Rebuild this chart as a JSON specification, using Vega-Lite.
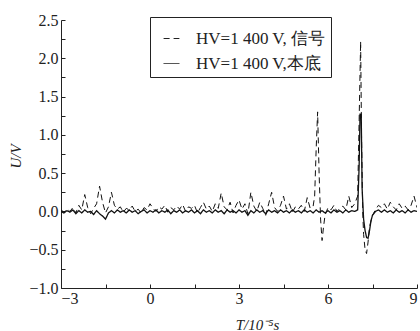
{
  "$schema": "https://vega.github.io/schema/vega-lite/v6.json",
  "width": 356,
  "height": 268,
  "autosize": {"type": "none"},
  "padding": {"left": 61, "top": 20, "right": 3, "bottom": 43},
  "background": "white",
  "config": {
    "view": {"stroke": null},
    "font": "Liberation Serif",
    "axis": {"domainColor": "#222", "tickColor": "#222", "labelColor": "#222", "titleColor": "#222", "labelFont": "Liberation Serif", "titleFont": "Liberation Serif", "labelFontSize": 16, "titleFontSize": 15, "titleFontWeight": "normal", "grid": false},
    "legend": {"labelFont": "Liberation Serif", "labelFontSize": 17, "labelColor": "#222", "symbolType": "M-0.5,0H0.5", "symbolSize": 1000, "symbolStrokeColor": "#222", "symbolStrokeWidth": 1, "rowPadding": 0, "padding": 5, "labelOffset": 8, "strokeColor": "#222", "labelLimit": 300}
  },
  "datasets": {
    "sig": [
      {"T": -3.0, "U": 0.02}, {"T": -2.9, "U": -0.01}, {"T": -2.8, "U": 0.03}, {"T": -2.7, "U": 0.0}, {"T": -2.6, "U": 0.05}, {"T": -2.5, "U": -0.02}, {"T": -2.4, "U": 0.08}, {"T": -2.3, "U": 0.02}, {"T": -2.2, "U": 0.22}, {"T": -2.1, "U": 0.05},
      {"T": -2.0, "U": -0.03}, {"T": -1.9, "U": 0.04}, {"T": -1.8, "U": 0.1}, {"T": -1.7, "U": 0.33}, {"T": -1.6, "U": 0.12}, {"T": -1.5, "U": -0.02}, {"T": -1.4, "U": 0.06}, {"T": -1.3, "U": 0.25}, {"T": -1.2, "U": 0.08}, {"T": -1.1, "U": 0.03},
      {"T": -1.0, "U": 0.06}, {"T": -0.9, "U": -0.01}, {"T": -0.8, "U": 0.04}, {"T": -0.7, "U": 0.02}, {"T": -0.6, "U": 0.07}, {"T": -0.5, "U": 0.0}, {"T": -0.4, "U": 0.03}, {"T": -0.3, "U": -0.02}, {"T": -0.2, "U": 0.05}, {"T": -0.1, "U": 0.02},
      {"T": 0.0, "U": 0.1}, {"T": 0.1, "U": 0.04}, {"T": 0.2, "U": 0.0}, {"T": 0.3, "U": 0.06}, {"T": 0.4, "U": 0.03}, {"T": 0.5, "U": 0.08}, {"T": 0.6, "U": -0.01}, {"T": 0.7, "U": 0.05}, {"T": 0.8, "U": 0.02}, {"T": 0.9, "U": 0.07},
      {"T": 1.0, "U": 0.03}, {"T": 1.1, "U": 0.09}, {"T": 1.2, "U": 0.0}, {"T": 1.3, "U": 0.06}, {"T": 1.4, "U": 0.04}, {"T": 1.5, "U": 0.08}, {"T": 1.6, "U": -0.02}, {"T": 1.7, "U": 0.05}, {"T": 1.8, "U": 0.12}, {"T": 1.9, "U": 0.03},
      {"T": 2.0, "U": 0.07}, {"T": 2.1, "U": 0.0}, {"T": 2.2, "U": 0.1}, {"T": 2.3, "U": 0.04}, {"T": 2.4, "U": 0.24}, {"T": 2.5, "U": 0.06}, {"T": 2.6, "U": 0.02}, {"T": 2.7, "U": 0.12}, {"T": 2.8, "U": -0.02}, {"T": 2.9, "U": 0.08},
      {"T": 3.0, "U": 0.15}, {"T": 3.1, "U": 0.03}, {"T": 3.2, "U": 0.1}, {"T": 3.3, "U": -0.03}, {"T": 3.4, "U": 0.25}, {"T": 3.5, "U": 0.07}, {"T": 3.6, "U": 0.0}, {"T": 3.7, "U": 0.12}, {"T": 3.8, "U": 0.04}, {"T": 3.9, "U": -0.05},
      {"T": 4.0, "U": 0.1}, {"T": 4.1, "U": 0.25}, {"T": 4.2, "U": 0.05}, {"T": 4.3, "U": 0.0}, {"T": 4.4, "U": 0.08}, {"T": 4.5, "U": 0.2}, {"T": 4.6, "U": 0.03}, {"T": 4.7, "U": 0.1}, {"T": 4.8, "U": -0.01}, {"T": 4.9, "U": 0.06},
      {"T": 5.0, "U": 0.03}, {"T": 5.1, "U": 0.08}, {"T": 5.2, "U": 0.0}, {"T": 5.3, "U": 0.18}, {"T": 5.4, "U": 0.04}, {"T": 5.5, "U": 0.07}, {"T": 5.55, "U": 0.2}, {"T": 5.6, "U": 0.8}, {"T": 5.65, "U": 1.3}, {"T": 5.7, "U": 0.5},
      {"T": 5.75, "U": -0.1}, {"T": 5.8, "U": -0.38}, {"T": 5.85, "U": -0.2}, {"T": 5.9, "U": -0.05}, {"T": 6.0, "U": 0.05}, {"T": 6.1, "U": 0.02}, {"T": 6.2, "U": 0.08}, {"T": 6.3, "U": 0.0}, {"T": 6.4, "U": 0.04}, {"T": 6.5, "U": 0.07},
      {"T": 6.6, "U": 0.02}, {"T": 6.7, "U": 0.2}, {"T": 6.8, "U": 0.05}, {"T": 6.9, "U": 0.1}, {"T": 7.0, "U": 0.2}, {"T": 7.05, "U": 1.2}, {"T": 7.1, "U": 2.22}, {"T": 7.13, "U": 1.0}, {"T": 7.17, "U": 0.0}, {"T": 7.2, "U": -0.3},
      {"T": 7.25, "U": -0.5}, {"T": 7.3, "U": -0.55}, {"T": 7.35, "U": -0.4}, {"T": 7.4, "U": -0.2}, {"T": 7.5, "U": -0.05}, {"T": 7.6, "U": 0.02}, {"T": 7.7, "U": 0.08}, {"T": 7.8, "U": 0.05}, {"T": 7.9, "U": 0.1}, {"T": 8.0, "U": 0.03},
      {"T": 8.1, "U": 0.12}, {"T": 8.2, "U": 0.06}, {"T": 8.3, "U": 0.02}, {"T": 8.4, "U": 0.1}, {"T": 8.5, "U": 0.04}, {"T": 8.6, "U": 0.07}, {"T": 8.7, "U": 0.02}, {"T": 8.8, "U": 0.08}, {"T": 8.9, "U": 0.2}, {"T": 9.0, "U": 0.05}
    ],
    "bg": [
      {"T": -3.0, "U": 0.0}, {"T": -2.9, "U": -0.02}, {"T": -2.8, "U": 0.01}, {"T": -2.7, "U": -0.01}, {"T": -2.6, "U": 0.02}, {"T": -2.5, "U": -0.03}, {"T": -2.4, "U": 0.01}, {"T": -2.3, "U": -0.02}, {"T": -2.2, "U": 0.02}, {"T": -2.1, "U": -0.01},
      {"T": -2.0, "U": 0.0}, {"T": -1.9, "U": -0.04}, {"T": -1.8, "U": 0.01}, {"T": -1.7, "U": -0.03}, {"T": -1.6, "U": -0.06}, {"T": -1.5, "U": -0.1}, {"T": -1.4, "U": -0.02}, {"T": -1.3, "U": 0.01}, {"T": -1.2, "U": -0.02}, {"T": -1.1, "U": 0.02},
      {"T": -1.0, "U": -0.01}, {"T": -0.9, "U": 0.01}, {"T": -0.8, "U": -0.02}, {"T": -0.7, "U": 0.02}, {"T": -0.6, "U": -0.01}, {"T": -0.5, "U": 0.01}, {"T": -0.4, "U": -0.03}, {"T": -0.3, "U": 0.0}, {"T": -0.2, "U": 0.02}, {"T": -0.1, "U": -0.02},
      {"T": 0.0, "U": 0.01}, {"T": 0.1, "U": -0.01}, {"T": 0.2, "U": 0.02}, {"T": 0.3, "U": -0.02}, {"T": 0.4, "U": 0.01}, {"T": 0.5, "U": -0.01}, {"T": 0.6, "U": 0.02}, {"T": 0.7, "U": -0.03}, {"T": 0.8, "U": 0.01}, {"T": 0.9, "U": -0.01},
      {"T": 1.0, "U": 0.02}, {"T": 1.1, "U": -0.02}, {"T": 1.2, "U": 0.01}, {"T": 1.3, "U": -0.01}, {"T": 1.4, "U": 0.02}, {"T": 1.5, "U": -0.02}, {"T": 1.6, "U": 0.01}, {"T": 1.7, "U": -0.03}, {"T": 1.8, "U": 0.02}, {"T": 1.9, "U": -0.01},
      {"T": 2.0, "U": 0.01}, {"T": 2.1, "U": -0.02}, {"T": 2.2, "U": 0.02}, {"T": 2.3, "U": -0.01}, {"T": 2.4, "U": 0.01}, {"T": 2.5, "U": -0.03}, {"T": 2.6, "U": 0.02}, {"T": 2.7, "U": -0.01}, {"T": 2.8, "U": 0.01}, {"T": 2.9, "U": -0.02},
      {"T": 3.0, "U": 0.02}, {"T": 3.1, "U": -0.01}, {"T": 3.2, "U": 0.01}, {"T": 3.3, "U": -0.05}, {"T": 3.4, "U": 0.01}, {"T": 3.5, "U": -0.02}, {"T": 3.6, "U": 0.02}, {"T": 3.7, "U": -0.01}, {"T": 3.8, "U": 0.01}, {"T": 3.9, "U": -0.03},
      {"T": 4.0, "U": 0.02}, {"T": 4.1, "U": -0.01}, {"T": 4.2, "U": 0.01}, {"T": 4.3, "U": -0.02}, {"T": 4.4, "U": 0.02}, {"T": 4.5, "U": -0.01}, {"T": 4.6, "U": 0.01}, {"T": 4.7, "U": -0.02}, {"T": 4.8, "U": 0.02}, {"T": 4.9, "U": -0.01},
      {"T": 5.0, "U": 0.01}, {"T": 5.1, "U": -0.02}, {"T": 5.2, "U": 0.02}, {"T": 5.3, "U": -0.01}, {"T": 5.4, "U": 0.01}, {"T": 5.5, "U": -0.02}, {"T": 5.6, "U": 0.02}, {"T": 5.7, "U": -0.01}, {"T": 5.8, "U": 0.01}, {"T": 5.9, "U": -0.02},
      {"T": 6.0, "U": 0.01}, {"T": 6.1, "U": -0.02}, {"T": 6.2, "U": 0.02}, {"T": 6.3, "U": -0.01}, {"T": 6.4, "U": 0.01}, {"T": 6.5, "U": -0.02}, {"T": 6.6, "U": 0.02}, {"T": 6.7, "U": -0.01}, {"T": 6.8, "U": 0.01}, {"T": 6.9, "U": 0.0},
      {"T": 7.0, "U": 0.02}, {"T": 7.05, "U": 0.6}, {"T": 7.08, "U": 1.27}, {"T": 7.12, "U": 1.27}, {"T": 7.15, "U": 0.3}, {"T": 7.2, "U": -0.1}, {"T": 7.25, "U": -0.25}, {"T": 7.3, "U": -0.34}, {"T": 7.35, "U": -0.35}, {"T": 7.4, "U": -0.25},
      {"T": 7.45, "U": -0.12}, {"T": 7.5, "U": -0.05}, {"T": 7.6, "U": 0.0}, {"T": 7.7, "U": 0.02}, {"T": 7.8, "U": -0.01}, {"T": 7.9, "U": 0.02}, {"T": 8.0, "U": -0.01}, {"T": 8.1, "U": 0.01}, {"T": 8.2, "U": -0.02}, {"T": 8.3, "U": 0.02},
      {"T": 8.4, "U": -0.01}, {"T": 8.5, "U": 0.01}, {"T": 8.6, "U": -0.02}, {"T": 8.7, "U": 0.02}, {"T": 8.8, "U": -0.01}, {"T": 8.9, "U": 0.01}, {"T": 9.0, "U": 0.0}
    ]
  },
  "encoding": {
    "x": {"field": "T", "type": "quantitative", "scale": {"domain": [-3, 9], "nice": false, "zero": false},
      "axis": {"values": [-3, -1.5, 0, 1.5, 3, 4.5, 6, 7.5, 9], "labelExpr": "datum.value % 3 === 0 ? (datum.value < 0 ? '\u2212' + abs(datum.value) : datum.label) : ''", "tickSize": -4, "labelOverlap": false, "labelBound": false, "labelPadding": 6, "title": "T/10\u207b\u2075s", "titleX": 196, "titleY": 29, "titleFontStyle": "italic"}},
    "y": {"field": "U", "type": "quantitative", "scale": {"domain": [-1, 2.5], "nice": false, "zero": false},
      "axis": {"values": [-1, -0.75, -0.5, -0.25, 0, 0.25, 0.5, 0.75, 1, 1.25, 1.5, 1.75, 2, 2.25, 2.5], "labelExpr": "round(datum.value * 4) % 2 === 0 ? (datum.value < 0 ? '\u2212' + format(abs(datum.value), '.1f') : format(datum.value, '.1f')) : ''", "tickSize": -4, "labelOverlap": false, "labelBound": false, "labelPadding": 7, "title": "U/V", "titleX": -38, "titleY": 136, "titleFontStyle": "italic"}}
  },
  "layer": [
    {
      "data": {"name": "bg"},
      "mark": {"type": "line", "stroke": "#111", "strokeWidth": 1.3, "clip": true},
      "encoding": {
        "strokeDash": {"datum": "HV=1 400 V,\u672c\u5e95", "type": "nominal",
          "scale": {"domain": ["HV=1 400 V, \u4fe1\u53f7", "HV=1 400 V,\u672c\u5e95"], "range": [[6, 4], [1, 0]]},
          "legend": {"title": null, "orient": "none", "legendX": 89, "legendY": -3}}
      }
    },
    {
      "data": {"name": "sig"},
      "mark": {"type": "line", "stroke": "#111", "strokeWidth": 1, "clip": true},
      "encoding": {
        "strokeDash": {"datum": "HV=1 400 V, \u4fe1\u53f7", "type": "nominal"}
      }
    }
  ]
}
